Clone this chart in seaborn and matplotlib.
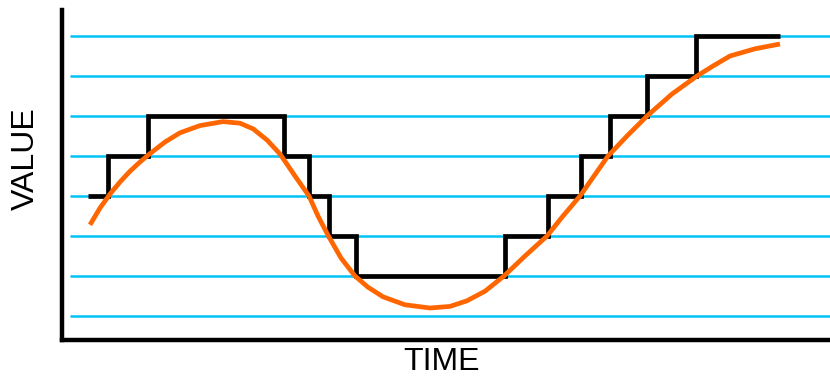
import numpy as np
import pandas as pd
import seaborn as sns
import matplotlib.pyplot as plt

# Quantisation levels (horizontal guide lines)
levels = [0, 1, 2, 3, 4, 5, 6, 7]

# Analog signal (orange)
signal_t = [90, 100, 110, 120, 130, 140, 148, 165, 180, 200, 223, 240, 253, 267, 280,
            295, 309, 318, 328, 341, 355, 368, 383, 405, 430, 450, 467, 485, 504, 525,
            547, 563, 580, 594, 608, 627, 647, 672, 697, 713, 730, 755, 780]
signal_v = [2.28, 2.7, 3.05, 3.35, 3.62, 3.85, 4.02, 4.35, 4.58, 4.76, 4.86, 4.82, 4.68, 4.4, 4.05,
            3.5, 3.0, 2.5, 2.02, 1.45, 1.0, 0.72, 0.48, 0.28, 0.2, 0.24, 0.38, 0.62, 1.0, 1.5,
            2.0, 2.5, 3.0, 3.5, 4.0, 4.5, 5.0, 5.55, 6.0, 6.25, 6.5, 6.68, 6.8]

# Quantised signal (black steps)
step_t = [88, 108, 148, 284, 309, 329, 356, 505, 548, 581, 610, 647, 696, 780]
step_v = [3, 4, 5, 4, 3, 2, 1, 2, 3, 4, 5, 6, 7, 7]

sns.set_style('white')
plt.rcParams['font.family'] = ['Liberation Sans', 'DejaVu Sans']

fig = plt.figure(figsize=(8.3, 3.78), dpi=100)
ax = fig.add_axes([62 / 830, 1 - 340 / 378, 1 - 62 / 830, 330 / 378])

ax.hlines(levels, 70, 830, color='#00C3F5', lw=1.8, zorder=1)

steps = pd.DataFrame({'t': step_t, 'v': step_v})
sns.lineplot(data=steps, x='t', y='v', ax=ax, color='black', lw=3.4,
             drawstyle='steps-post', solid_joinstyle='miter', solid_capstyle='butt', zorder=2)

signal = pd.DataFrame({'t': signal_t, 'v': signal_v})
sns.lineplot(data=signal, x='t', y='v', ax=ax, color='#FF6600', lw=3.4,
             solid_joinstyle='round', solid_capstyle='butt', zorder=3)

ax.set_xlim(62, 830)
ax.set_ylim(-0.6, 7.65)
ax.set_xticks([])
ax.set_yticks([])
sns.despine(ax=ax)
for side in ['left', 'bottom']:
    ax.spines[side].set_linewidth(3.2)
    ax.spines[side].set_color('black')

ax.set_xlabel('TIME', fontsize=23, color='black')
ax.set_ylabel('VALUE', fontsize=23, color='black')
ax.xaxis.set_label_coords((441 - 62) / 768, -0.02)
ax.yaxis.set_label_coords(-0.027, (340 - 159) / 330)

fig.savefig('out.png', dpi=100)
